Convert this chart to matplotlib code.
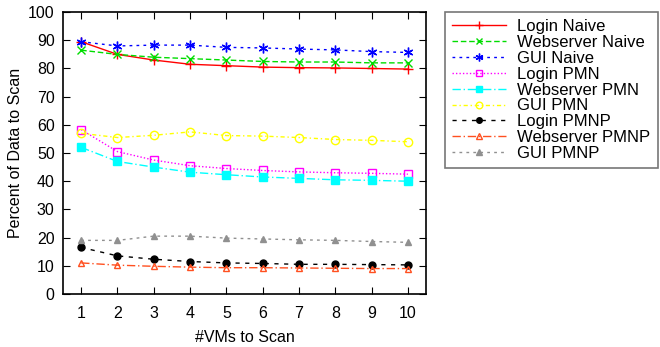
import numpy as np
import matplotlib
matplotlib.use("Agg")
import matplotlib.pyplot as plt

plt.rcParams['font.family'] = ['Liberation Sans', 'DejaVu Sans']

vms = np.arange(1, 11)

login_naive = [89.5, 85.0, 83.0, 81.5, 81.0, 80.5, 80.3, 80.2, 80.0, 79.8]
web_naive = [86.5, 85.0, 84.0, 83.5, 83.0, 82.5, 82.3, 82.3, 82.0, 82.0]
gui_naive = [89.5, 88.0, 88.3, 88.3, 87.5, 87.3, 86.9, 86.6, 86.0, 85.7]
login_pmn = [58.3, 50.5, 47.5, 45.5, 44.5, 43.8, 43.3, 43.0, 42.8, 42.5]
web_pmn = [52.0, 47.0, 45.0, 43.2, 42.3, 41.5, 41.0, 40.5, 40.3, 40.0]
gui_pmn = [57.0, 55.5, 56.3, 57.5, 56.2, 56.0, 55.5, 54.8, 54.5, 54.0]
login_pmnp = [16.5, 13.5, 12.3, 11.5, 11.0, 10.8, 10.5, 10.5, 10.4, 10.3]
web_pmnp = [11.0, 10.2, 9.8, 9.5, 9.3, 9.3, 9.2, 9.1, 9.0, 9.0]
gui_pmnp = [19.0, 19.0, 20.5, 20.5, 19.8, 19.5, 19.2, 19.0, 18.6, 18.3]

fig = plt.figure(figsize=(6.6, 3.47), dpi=100)
ax = fig.add_axes([0.0955, 0.153, 0.55, 0.812])

ms = 6
ax.plot(vms, login_naive, color='red', ls='-', marker='+', ms=ms+1, lw=1, label='Login Naive')
ax.plot(vms, web_naive, color='#00dd00', ls=(0, (4, 2)), marker='x', ms=ms, lw=1, label='Webserver Naive')
ax.plot(vms, gui_naive, color='blue', ls=(0, (2, 3)), marker=(6, 2, 0), ms=ms+1, lw=1, label='GUI Naive')
ax.plot(vms, login_pmn, color='magenta', ls=(0, (1, 1.5)), marker='s', mfc='none', ms=ms, lw=1, label='Login PMN')
ax.plot(vms, web_pmn, color='cyan', ls=(0, (6, 2, 1, 2)), marker='s', ms=ms, lw=1, label='Webserver PMN')
ax.plot(vms, gui_pmn, color='yellow', ls=(0, (3, 2, 1, 2)), marker='o', mfc='none', ms=ms, lw=1, label='GUI PMN')
ax.plot(vms, login_pmnp, color='black', ls=(0, (3, 4)), marker='o', ms=ms-1, lw=1, label='Login PMNP')
ax.plot(vms, web_pmnp, color='#ff5020', ls=(0, (6, 2, 1, 2)), marker='^', mfc='none', ms=ms-1, lw=1, label='Webserver PMNP')
ax.plot(vms, gui_pmnp, color='#909090', ls=(0, (2, 3)), marker='^', ms=ms-1, lw=1, label='GUI PMNP')

ax.set_xlim(0.5, 10.5)
ax.set_ylim(0, 100)
ax.set_xticks(vms)
ax.set_yticks(np.arange(0, 101, 10))
ax.tick_params(direction='in', top=True, right=True, length=5, labelsize=11.5)
ax.tick_params(axis='x', pad=9)
ax.tick_params(axis='y', pad=6)
ax.set_xlabel('#VMs to Scan', fontsize=11.5, labelpad=6)
ax.set_ylabel('Percent of Data to Scan', fontsize=11.5)
for s in ax.spines.values():
    s.set_linewidth(1.2)

leg = fig.legend(loc='upper left', bbox_to_anchor=(0.674, 0.966), fontsize=12,
                 frameon=True, fancybox=False, edgecolor='#555555', handlelength=3.2,
                 labelspacing=0.05, borderpad=0.45, handletextpad=0.7, borderaxespad=0,
                 markerscale=0.8)
leg.get_frame().set_linewidth(1.2)

fig.savefig('out.png', dpi=100)
